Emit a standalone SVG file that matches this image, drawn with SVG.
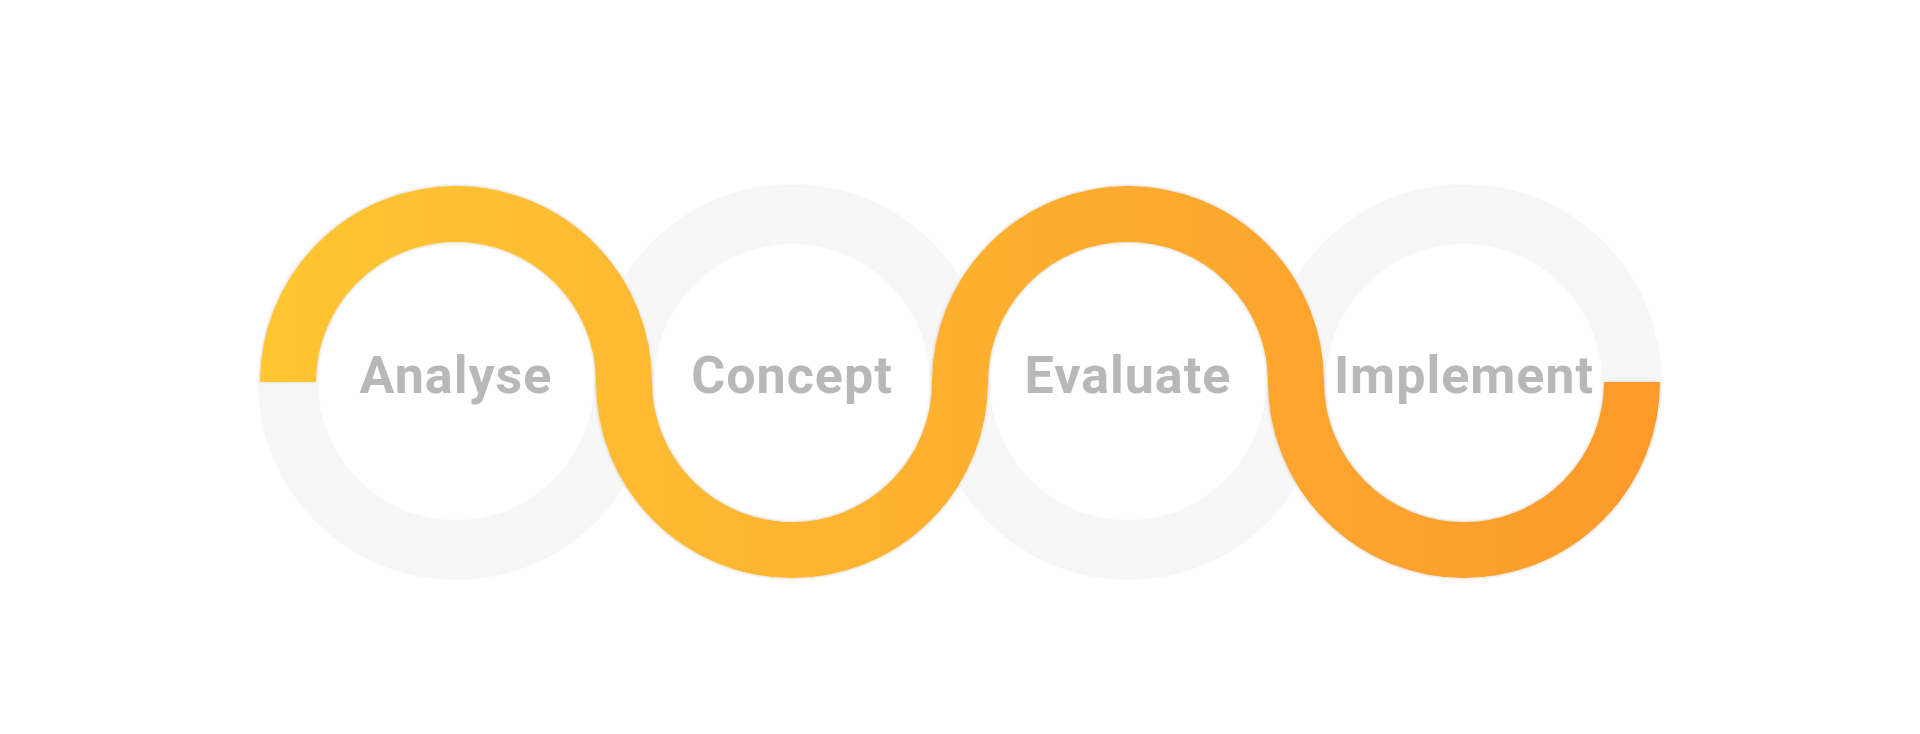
<svg xmlns="http://www.w3.org/2000/svg" width="1920" height="734" viewBox="0 0 1920 734">
  <defs>
    <linearGradient id="orangeGrad" gradientUnits="userSpaceOnUse" x1="260" y1="0" x2="1660" y2="0">
      <stop offset="0" stop-color="#FFC632"/>
      <stop offset="0.5" stop-color="#FDB02F"/>
      <stop offset="1" stop-color="#FC9A2C"/>
    </linearGradient>
    <filter id="soft" x="-10%" y="-10%" width="120%" height="120%">
      <feDropShadow dx="0" dy="0" stdDeviation="1.6" flood-color="#000000" flood-opacity="0.14"/>
    </filter>
  </defs>
  <style>
    .track { fill: none; stroke: #F7F7F7; stroke-width: 56; }
    .label { font-family: Roboto, "Liberation Sans", sans-serif; font-weight: 700; font-size: 52px; fill: #B8B8B8; text-anchor: middle; letter-spacing: 1px; }
  </style>
  <rect x="0" y="0" width="1920" height="734" fill="#FFFFFF"/>

  <g id="tracks">
    <circle class="track" cx="456" cy="382" r="168" filter="url(#soft)"/>
    <circle class="track" cx="792" cy="382" r="168" filter="url(#soft)"/>
    <circle class="track" cx="1128" cy="382" r="168" filter="url(#soft)"/>
    <circle class="track" cx="1464" cy="382" r="168" filter="url(#soft)"/>
  </g>

  <g id="connectors">
    <path d="M 288 382 A 168 168 0 0 1 624 382 A 168 168 0 0 0 960 382 A 168 168 0 0 1 1296 382 A 168 168 0 0 0 1632 382" fill="none" stroke="url(#orangeGrad)" stroke-width="56" stroke-linecap="butt" filter="url(#soft)"/>
  </g>

  <g id="node-analyse">
    <text class="label" x="456" y="393">Analyse</text>
  </g>
  <g id="node-concept">
    <text class="label" x="792" y="393">Concept</text>
  </g>
  <g id="node-evaluate">
    <text class="label" x="1128" y="393">Evaluate</text>
  </g>
  <g id="node-implement">
    <text class="label" x="1464" y="393">Implement</text>
  </g>
</svg>
